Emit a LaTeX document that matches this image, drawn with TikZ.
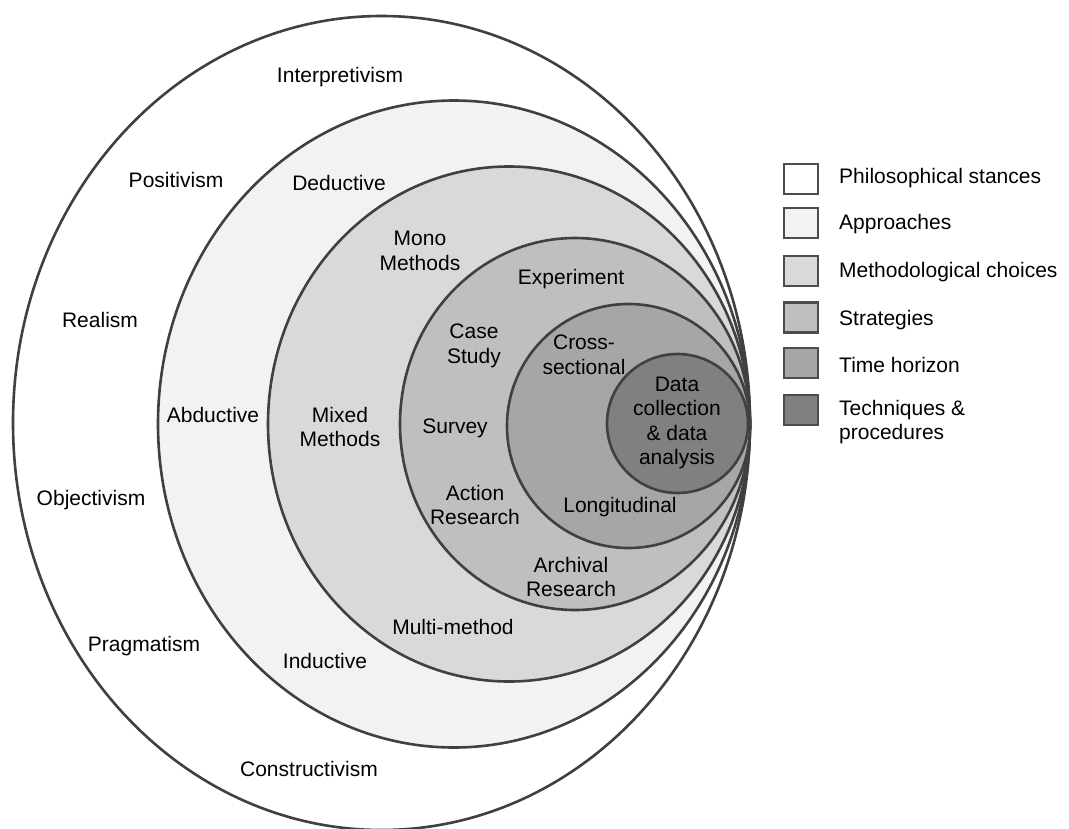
\documentclass[tikz,border=0pt]{standalone}
\usepackage{fontspec}
\setmainfont{Liberation Sans}
\begin{document}
\begin{tikzpicture}[x=1pt,y=-1pt,
  ring/.style={draw=black!75, line width=2.6pt},
  lbl/.style={font=\fontsize{21}{24.5}\selectfont, align=center, inner sep=0pt, text=black},
  keybox/.style={draw=black!70, line width=2.4pt, minimum width=34pt, minimum height=30pt, inner sep=0pt},
  keytext/.style={font=\fontsize{21}{24.5}\selectfont, align=left, anchor=west, inner sep=0pt}]
\useasboundingbox (0,0) rectangle (1069,828);
\clip (0,0) rectangle (1069,828);

% nested layers of the research onion
\fill[white] (0,0) rectangle (1069,828);
\draw[ring, fill=white]      (381.5,423) ellipse [x radius=368.5pt, y radius=407pt];
\draw[ring, fill=black!5]    (454,424)   ellipse [x radius=296pt,   y radius=323.5pt];
\draw[ring, fill=black!15]   (509,424)   ellipse [x radius=241pt,   y radius=257.5pt];
\draw[ring, fill=black!25]   (575,424)   ellipse [x radius=175pt,   y radius=186pt];
\draw[ring, fill=black!35]   (628.5,426) ellipse [x radius=121.5pt, y radius=122pt];
\draw[ring, fill=black!50]   (677.5,423.5) ellipse [x radius=70.5pt, y radius=69.5pt];

% philosophical stances
\node[lbl] (interp) at (340,77)  {Interpretivism};
\node[lbl] (posit)  at (176,180) {Positivism};
\node[lbl] (real)   at (100,320) {Realism};
\node[lbl] (objec)  at (91,500)  {Objectivism};
\node[lbl] (pragm)  at (144,646) {Pragmatism};
\node[lbl] (const)  at (309,769) {Constructivism};

% approaches
\node[lbl] (deduc)  at (339,183) {Deductive};
\node[lbl] (abduc)  at (213,415) {Abductive};
\node[lbl] (induc)  at (325,661) {Inductive};

% methodological choices
\node[lbl] (mono)   at (420,251) {Mono\\Methods};
\node[lbl] (mixed)  at (340,427) {Mixed\\Methods};
\node[lbl] (multi)  at (453,627) {Multi-method};

% strategies
\node[lbl] (exper)  at (571,279) {Experiment};
\node[lbl] (case)   at (474,346) {Case\\Study};
\node[lbl] (surv)   at (455,428) {Survey};
\node[lbl] (action) at (475,505) {Action\\Research};
\node[lbl] (arch)   at (571,577) {Archival\\Research};

% time horizon
\node[lbl] (cross)  at (584,355) {Cross-\\sectional};
\node[lbl] (longi)  at (620,507) {Longitudinal};

% techniques and procedures
\node[lbl] (data)   at (677,423) {Data\\collection\\\& data\\analysis};

% key
\node[keybox, fill=white]    (k1) at (801,179)   {};
\node[keybox, fill=black!5]  (k2) at (801,223)   {};
\node[keybox, fill=black!15] (k3) at (801,271)   {};
\node[keybox, fill=black!25] (k4) at (801,317.5) {};
\node[keybox, fill=black!35] (k5) at (801,363)   {};
\node[keybox, fill=black!50] (k6) at (801,410)   {};
\node[keytext] (t1) at (839,178) {Philosophical stances};
\node[keytext] (t2) at (839,224) {Approaches};
\node[keytext] (t3) at (839,272) {Methodological choices};
\node[keytext] (t4) at (839,320) {Strategies};
\node[keytext] (t5) at (839,365) {Time horizon};
\node[keytext] (t6) at (839,422) {Techniques \&\\procedures};
\end{tikzpicture}
\end{document}
